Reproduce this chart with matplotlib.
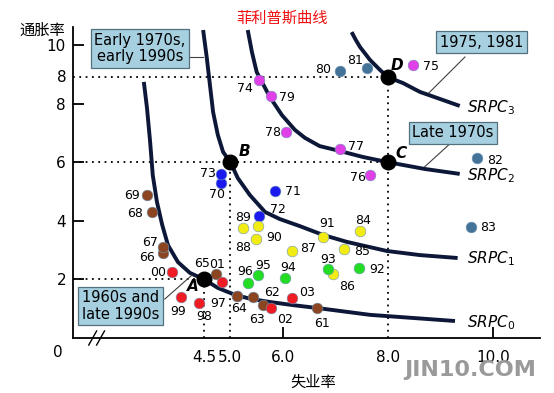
import matplotlib
matplotlib.use('Agg')
import matplotlib.pyplot as plt

plt.rcParams['font.family'] = ['DejaVu Sans', 'Noto Sans CJK SC']

# 年份与数据点 (失业率 %, 通胀率 %)
years = ['61', '62', '63', '64', '65', '66', '67', '68', '69',
         '70', '71', '72', '73', '74', '75', '76', '77', '78', '79',
         '80', '81', '82', '83', '84', '85', '86', '87', '88', '89', '90', '91',
         '92', '93', '94', '95', '96', '97', '98', '99', '00', '01', '02', '03']
unemployment = [6.65, 5.43, 5.62, 5.12, 4.72, 3.71, 3.71, 3.50, 3.41,
                4.82, 5.85, 5.54, 4.82, 5.54, 8.48, 7.66, 7.09, 6.06, 5.77,
                7.09, 7.60, 9.70, 9.58, 7.47, 7.16, 6.95, 6.17, 5.49, 5.24, 5.52, 6.76,
                7.45, 6.86, 6.04, 5.52, 5.33, 5.12, 4.40, 4.06, 3.89, 4.84, 5.77, 6.17]
inflation = [1.02, 1.40, 1.13, 1.43, 2.18, 2.90, 3.11, 4.30, 4.88,
             5.29, 5.02, 4.16, 5.60, 8.81, 9.32, 5.56, 6.45, 7.03, 8.26,
             9.11, 9.22, 6.14, 3.79, 3.65, 3.04, 2.18, 2.97, 3.38, 3.75, 3.82, 3.45,
             2.39, 2.35, 2.05, 2.15, 1.88, 1.43, 1.19, 1.40, 2.25, 1.91, 1.02, 1.37]
periods = ['60s'] * 9 + ['early70s'] * 4 + ['late70s'] * 6 + ['early80s'] * 4 + \
          ['late80s'] * 8 + ['early90s'] * 5 + ['late90s'] * 7

# 短期菲利普斯曲线 (从图上读取的点)
srpc0_x = [3.35, 3.41, 3.47, 3.52, 3.60, 3.70, 3.81, 4.00, 4.23, 4.50, 4.76, 5.09,
           5.40, 5.75, 6.20, 6.67, 7.66, 9.28]
srpc0_y = [8.74, 7.85, 6.69, 5.56, 4.64, 3.86, 3.17, 2.59, 2.22, 2.00, 1.71, 1.47,
           1.33, 1.23, 1.12, 1.02, 0.79, 0.58]
srpc1_x = [4.48, 4.55, 4.61, 4.67, 4.76, 4.86, 5.00, 5.14, 5.37, 5.66, 5.94, 6.32,
           6.76, 7.22, 7.98, 8.61, 9.33]
srpc1_y = [10.51, 9.56, 8.63, 7.71, 6.93, 6.35, 6.00, 5.46, 4.88, 4.30, 4.06, 3.82,
           3.52, 3.28, 2.97, 2.83, 2.73]
srpc2_x = [5.33, 5.41, 5.50, 5.60, 5.75, 5.98, 6.23, 6.42, 6.70, 7.09, 7.52, 8.00, 8.70, 9.37]
srpc2_y = [10.51, 9.76, 9.08, 8.74, 8.23, 7.61, 7.10, 6.83, 6.55, 6.38, 6.18, 6.00, 5.77, 5.60]
srpc3_x = [7.31, 7.39, 7.47, 7.57, 7.66, 7.85, 8.00, 8.29, 8.61, 8.99, 9.37]
srpc3_y = [10.44, 10.17, 9.93, 9.70, 9.49, 9.15, 8.90, 8.70, 8.40, 8.16, 7.92]

# 关键点 A B C D
key_names = ['A', 'B', 'C', 'D']
key_x = [4.5, 5.0, 8.0, 8.0]
key_y = [2.0, 6.0, 6.0, 8.9]

xtick_vals = [4.5, 5.0, 6.0, 8.0, 10.0]
xtick_labels = ['4.5', '5.0', '6.0', '8.0', '10.0']
ytick_vals = [2, 4, 6, 8, 10]
ytick_labels = ['2', '4', '6', '8', '10']

palette = {'60s': '#8b4520', 'early70s': '#1a1aee', 'late70s': '#e040e8',
           'early80s': '#44739a', 'late80s': '#f2ec14', 'early90s': '#22dd22',
           'late90s': '#f01c24'}

# 标签偏移 (像素, 向右/向下)
label_off = {'61': (5, 15), '62': (19, -4), '63': (-6, 15), '64': (2, 12), '65': (-14, -11),
             '66': (-16, 4), '67': (-13, -4), '68': (-17, 1), '69': (-15, 0),
             '70': (-4, 12), '71': (18, 1), '72': (19, -7), '73': (-13, 0),
             '74': (-14, 9), '75': (18, 2), '76': (-12, 2), '77': (16, -3), '78': (-13, 0),
             '79': (16, 2), '80': (-17, -2), '81': (-12, -7), '82': (18, 2), '83': (17, 1),
             '84': (3, -11), '85': (18, 3), '86': (14, 12), '87': (16, -2), '88': (-13, 9),
             '89': (0, -11), '90': (16, 11), '91': (4, -13), '92': (18, 2), '93': (0, -10),
             '94': (3, -10), '95': (5, -10), '96': (-3, -11), '97': (-19, 7), '98': (5, 13),
             '99': (-3, 15), '00': (-14, 0), '01': (-5, -18), '02': (14, 11), '03': (15, -5)}

fig = plt.figure(figsize=(5.54, 3.93), dpi=100)
ax = fig.add_axes([73 / 554, 55 / 393, 467 / 554, 310.6 / 393])
ax.set_xlim(2.0, 10.9)
ax.set_ylim(0, 10.6)

for s in ['top', 'right']:
    ax.spines[s].set_visible(False)
for s in ['left', 'bottom']:
    ax.spines[s].set_linewidth(1.3)

ax.set_xticks(xtick_vals)
ax.set_xticklabels(xtick_labels, fontsize=11)
ax.set_yticks(ytick_vals)
ax.set_yticklabels(ytick_labels, fontsize=11)
ax.tick_params(axis='both', direction='in', length=8, width=1.3)
ax.tick_params(axis='x', pad=9)
ax.tick_params(axis='y', pad=5)
for i in [0, 1, 3]:
    ax.xaxis.get_major_ticks()[i].tick1line.set_visible(False)
ax.text(1.87, 8.9, '8', fontsize=11, ha='right', va='center')
ax.text(1.71, -0.5, '0', fontsize=11, ha='center', va='center', clip_on=False)

# 轴断开符号
for bx in [2.30, 2.45]:
    ax.plot([bx, bx + 0.15], [-0.24, 0.24], color='black', lw=1.0, clip_on=False)

# 虚线
dot_kw = dict(color='black', ls=(0, (1, 2.5)), lw=1.3, zorder=1)
ax.plot([2.0, key_x[0]], [key_y[0], key_y[0]], **dot_kw)
ax.plot([key_x[0], key_x[0]], [0, key_y[0]], **dot_kw)
ax.plot([key_x[1], key_x[1]], [0, key_y[1]], **dot_kw)
ax.plot([2.0, key_x[2]], [key_y[2], key_y[2]], **dot_kw)
ax.plot([key_x[3], key_x[3]], [0, key_y[3]], **dot_kw)
ax.plot([2.0, key_x[3]], [key_y[3], key_y[3]], **dot_kw)

# 曲线
curve_kw = dict(color='#0d1838', lw=2.8, solid_capstyle='butt', solid_joinstyle='round', zorder=2, clip_on=False)
ax.plot(srpc0_x, srpc0_y, **curve_kw)
ax.plot(srpc1_x, srpc1_y, **curve_kw)
ax.plot(srpc2_x, srpc2_y, **curve_kw)
ax.plot(srpc3_x, srpc3_y, **curve_kw)

srpc_lbl_y = [0.37, 2.56, 5.39, 7.71]
for k, yy in enumerate(srpc_lbl_y):
    ax.text(9.5, yy, r'$\mathit{SRPC}_{%d}$' % k, fontsize=11, ha='left', va='baseline')

# 数据点
for i, yr in enumerate(years):
    z = 3 if yr == '97' else 4 + (periods[i] == 'late90s')
    ax.scatter(unemployment[i], inflation[i], s=60, color=palette[periods[i]],
               edgecolor='#6f95b5', linewidth=0.4, zorder=z)
    dx, dy = label_off[yr]
    ax.annotate(yr, (unemployment[i], inflation[i]), xytext=(dx * 0.72, -dy * 0.72),
                textcoords='offset points', ha='center', va='center', fontsize=9, zorder=6)

# 关键点
ab_off = {'A': (-11, 7), 'B': (14, -11), 'C': (13, -9), 'D': (9, -12)}
ax.scatter(key_x, key_y, s=110, color='black', zorder=7)
for n, xx, yy in zip(key_names, key_x, key_y):
    dx, dy = ab_off[n]
    ax.annotate(n, (xx, yy), xytext=(dx * 0.72, -dy * 0.72), textcoords='offset points',
                ha='center', va='center', fontsize=11, fontweight='bold', fontstyle='italic', zorder=8)

# 说明框
box_kw = dict(boxstyle='square,pad=0.25', facecolor='#a6cfe0', edgecolor='#52707e', lw=0.9)
ax.text(3.276, 9.88, 'Early 1970s,\nearly 1990s', fontsize=10.5, ha='center', va='center',
        linespacing=1.1, bbox=box_kw, zorder=9, clip_on=False)
ax.text(9.78, 10.09, '1975, 1981', fontsize=10.5, ha='center', va='center', bbox=box_kw, zorder=9, clip_on=False)
ax.text(9.24, 7.0, 'Late 1970s', fontsize=10.5, ha='center', va='center', bbox=box_kw, zorder=9)
ax.text(2.91, 1.09, '1960s and\nlate 1990s', fontsize=10.5, ha='center', va='center',
        linespacing=1.1, bbox=box_kw, zorder=9)

line_kw = dict(color='#404040', lw=0.8, zorder=2)
ax.plot([4.19, 4.48], [9.59, 9.59], **line_kw)
ax.plot([9.47, 8.78], [9.59, 8.36], **line_kw)
ax.plot([9.16, 8.70], [6.59, 5.84], **line_kw)
ax.plot([3.75, 4.27], [1.33, 2.15], **line_kw)

fig.text(282 / 554, 1 - 18 / 393, '菲利普斯曲线', color='#ee1111', fontsize=11,
         ha='center', va='center', family='Noto Sans CJK SC')
fig.text(42 / 554, 1 - 30 / 393, '通胀率', fontsize=11, ha='center', va='center', family='Noto Sans CJK SC')
fig.text(313 / 554, 1 - 382 / 393, '失业率', fontsize=11, ha='center', va='center', family='Noto Sans CJK SC')
fig.text(470 / 554, 1 - 370 / 393, 'JIN10.COM', fontsize=16, fontweight='bold', color='#9a9a9a',
         ha='center', va='center')

fig.savefig('out.png', dpi=100)
